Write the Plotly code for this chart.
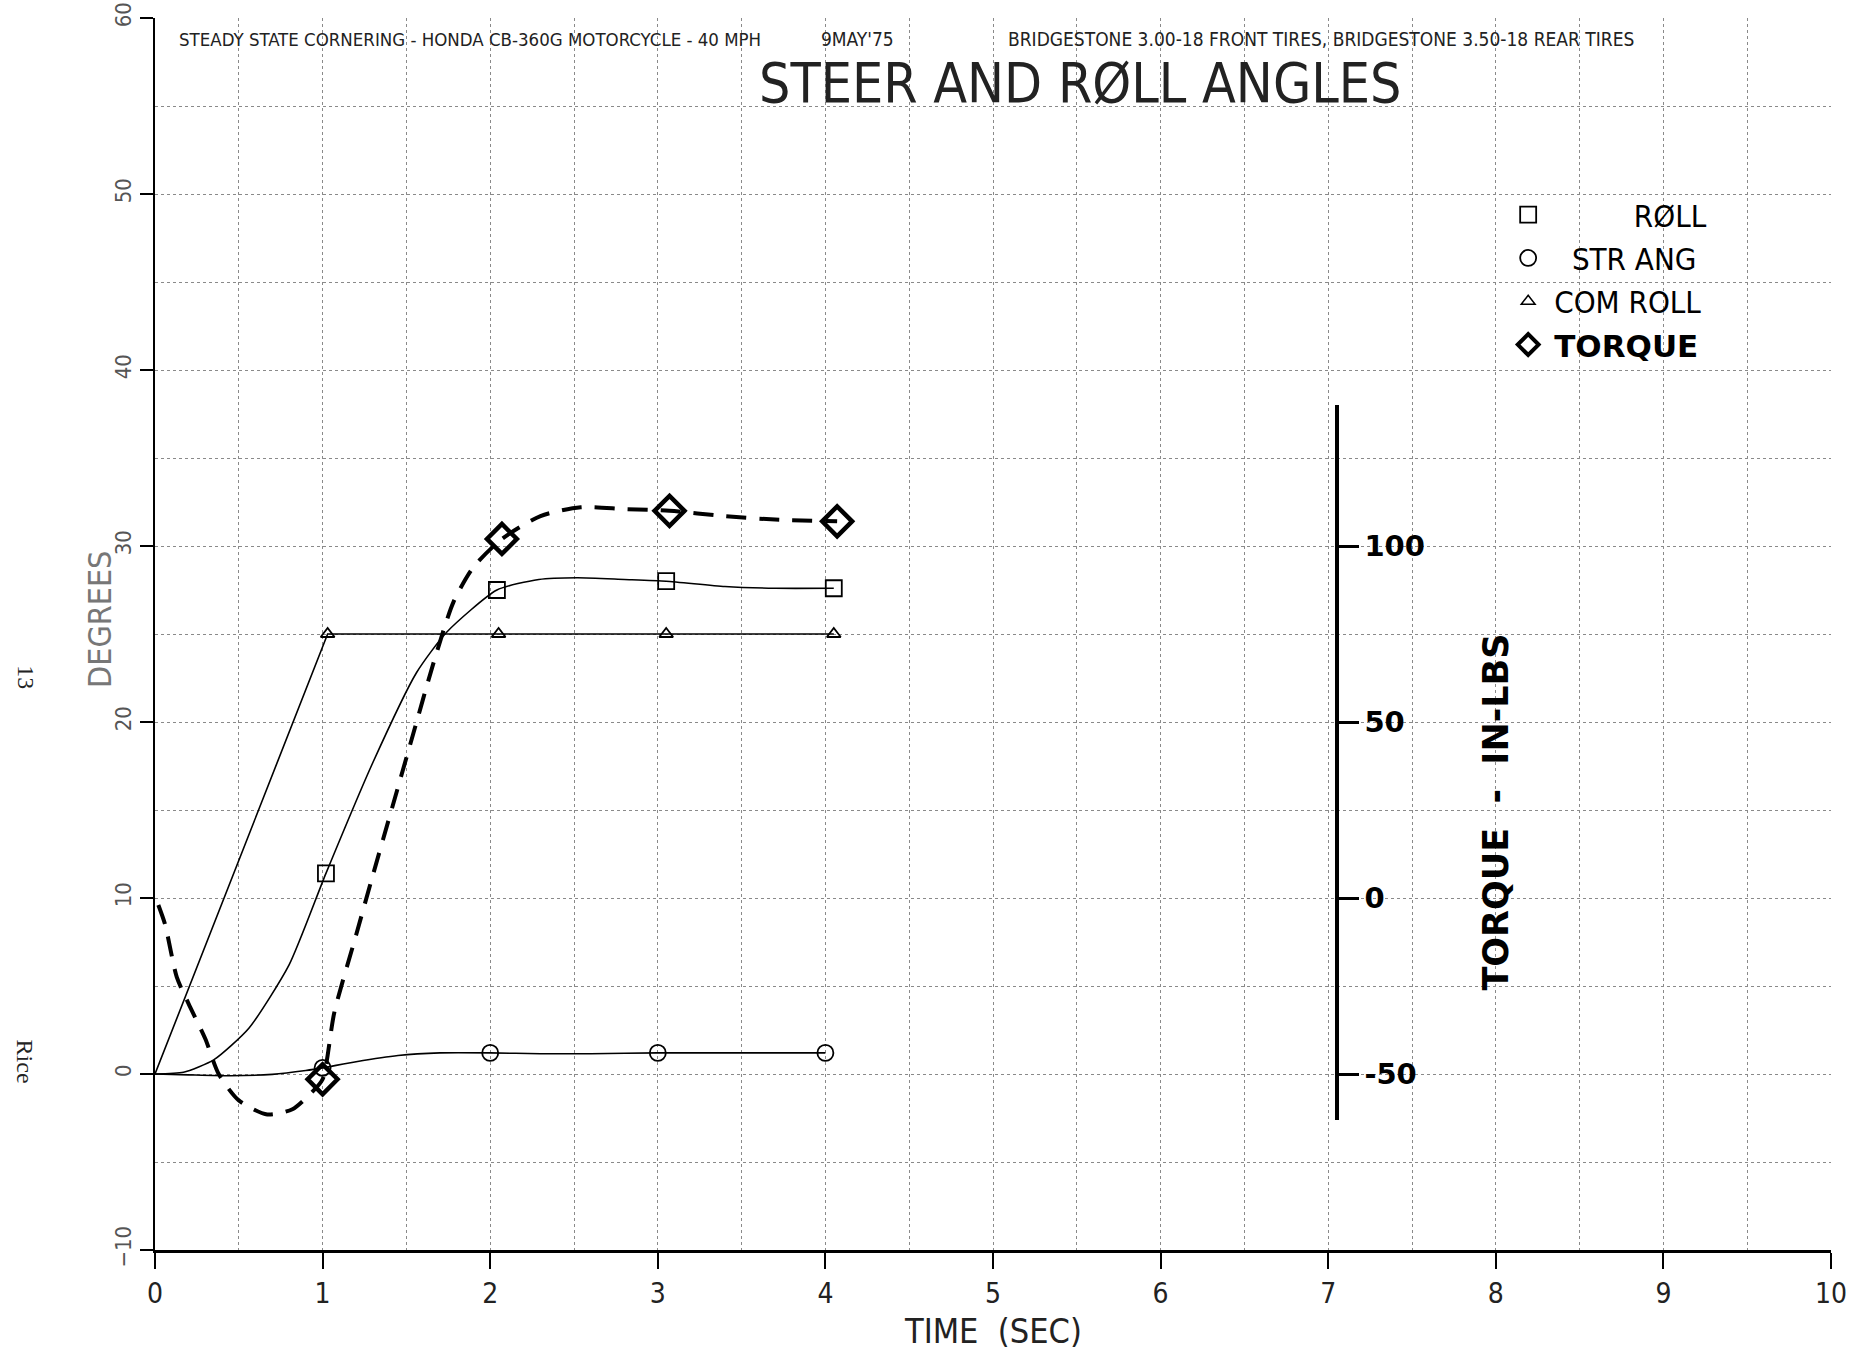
import plotly.graph_objects as go

# ---------------- data ----------------
# ROLL (degrees)
T_ROLL = [0, 0.17, 0.35, 0.56, 0.80, 1.02, 1.30, 1.56, 1.74, 2.04, 2.29, 2.52, 2.80, 3.05, 3.40, 3.70, 4.05]
ROLL = [0, 0.1, 0.8, 2.6, 6.2, 11.4, 17.7, 22.8, 25.1, 27.5, 28.1, 28.2, 28.1, 28.0, 27.7, 27.6, 27.6]
T_ROLL_MK = [1.02, 2.04, 3.05, 4.05]
ROLL_MK = [11.4, 27.5, 28.0, 27.6]

# STEER ANGLE (degrees)
T_STR = [0, 0.2, 0.45, 0.7, 0.9, 1.0, 1.2, 1.45, 1.7, 2.0, 2.3, 2.6, 3.0, 3.5, 4.0]
STR_ANG = [0, -0.05, -0.1, -0.02, 0.2, 0.35, 0.7, 1.05, 1.2, 1.2, 1.15, 1.15, 1.2, 1.2, 1.2]
T_STR_MK = [1.0, 2.0, 3.0, 4.0]
STR_MK = [0.35, 1.2, 1.2, 1.2]

# COMMANDED ROLL (degrees)
T_COM = [0, 1.03, 4.05]
COM_ROLL = [0, 25.0, 25.0]
T_COM_MK = [1.03, 2.05, 3.05, 4.05]
COM_MK = [25.0, 25.0, 25.0, 25.0]

# TORQUE (in-lbs)
T_TQ = [0.02, 0.06, 0.13, 0.20, 0.30, 0.38, 0.50, 0.67, 0.82, 0.94, 1.00, 1.07, 1.20, 1.30,
        1.42, 1.54, 1.66, 1.78, 1.90, 2.07, 2.30, 2.54, 2.80, 3.07, 3.40, 3.70, 4.07]
TORQUE = [-2, -7.5, -22.5, -30, -40, -50, -57.5, -61.5, -60, -55, -51.5, -32.5, -10.5, 6.5,
          26.5, 46.5, 66.5, 84, 94, 102, 108.5, 111, 110.5, 110, 108.5, 107.5, 107]
T_TQ_MK = [1.00, 2.07, 3.07, 4.07]
TQ_MK = [-51.5, 102, 110, 107]

X_TICKS = list(range(0, 11))
Y_TICKS = list(range(-10, 61, 10))
TQ_TICKS = [-50, 0, 50, 100]
TQ_TICK_LABELS = ["-50", "0", "50", "100"]
X_RANGE = [0, 10]
Y_RANGE = [-10, 60]
TQ_RANGE = [-63, 140]          # extent of the hand-drawn torque scale
TQ_ZERO_DEG = 10               # torque 0 in-lbs sits at 10 degrees
TQ_PER_DEG = 5                 # 5 in-lbs per degree
TQ_AXIS_T = 7.05               # time at which the torque scale is drawn

NARROW = "Liberation Sans Narrow, DejaVu Sans Condensed, Roboto Condensed, Liberation Sans, sans-serif"
HAND = "DejaVu Sans, Verdana, sans-serif"

def deg_to_frac(d):
    return (d - Y_RANGE[0]) / (Y_RANGE[1] - Y_RANGE[0])

tq_dom = [deg_to_frac(TQ_RANGE[0] / TQ_PER_DEG + TQ_ZERO_DEG),
          deg_to_frac(TQ_RANGE[1] / TQ_PER_DEG + TQ_ZERO_DEG)]

fig = go.Figure()
thin = dict(color="black", width=1.6, shape="spline", smoothing=0.6)

fig.add_trace(go.Scatter(x=T_COM, y=COM_ROLL, mode="lines", line=dict(color="black", width=1.6),
                         showlegend=False, hoverinfo="skip"))
fig.add_trace(go.Scatter(x=T_ROLL, y=ROLL, mode="lines", line=thin, showlegend=False))
fig.add_trace(go.Scatter(x=T_STR, y=STR_ANG, mode="lines", line=thin, showlegend=False))

mk_sq = dict(symbol="square-open", size=16, color="black", line=dict(width=1.8))
mk_ci = dict(symbol="circle-open", size=16, color="black", line=dict(width=1.8))
mk_tr = dict(symbol="triangle-up-open", size=12, color="black", line=dict(width=1.8))
mk_di = dict(symbol="diamond-open", size=23, color="black", line=dict(width=4.5))

fig.add_trace(go.Scatter(x=T_ROLL_MK, y=ROLL_MK, mode="markers", marker=mk_sq, showlegend=False))
fig.add_trace(go.Scatter(x=T_STR_MK, y=STR_MK, mode="markers", marker=mk_ci, showlegend=False))
fig.add_trace(go.Scatter(x=T_COM_MK, y=COM_MK, mode="markers", marker=mk_tr, showlegend=False))

fig.add_trace(go.Scatter(x=T_TQ, y=TORQUE, xaxis="x2", yaxis="y3", mode="lines",
                         line=dict(color="black", width=4, dash="20px,13px", shape="spline", smoothing=0.7),
                         showlegend=False))
fig.add_trace(go.Scatter(x=T_TQ_MK, y=TQ_MK, xaxis="x2", yaxis="y3", mode="markers", marker=mk_di,
                         cliponaxis=False, showlegend=False))

# legend entries (marker only)
fig.add_trace(go.Scatter(x=[None], y=[None], mode="markers",
                         marker=dict(symbol="square-open", size=16, color="black", line=dict(width=1.8)),
                         name="\u00a0\u00a0\u00a0\u00a0\u00a0\u00a0\u00a0\u00a0\u00a0RØLL"))
fig.add_trace(go.Scatter(x=[None], y=[None], mode="markers",
                         marker=dict(symbol="circle-open", size=16, color="black", line=dict(width=1.8)),
                         name="\u00a0\u00a0STR ANG"))
fig.add_trace(go.Scatter(x=[None], y=[None], mode="markers",
                         marker=dict(symbol="triangle-up-open", size=12, color="black", line=dict(width=1.5)),
                         name="COM ROLL"))
fig.add_trace(go.Scatter(x=[None], y=[None], mode="markers",
                         marker=dict(symbol="diamond-open", size=16, color="black", line=dict(width=4)),
                         name="<span style='font-family:DejaVu Sans;font-weight:bold'>TORQUE</span>"))

grid = dict(showgrid=True, gridcolor="#8a8a8a", griddash="dot", gridwidth=1)

fig.update_layout(
    width=1861, height=1356,
    margin=dict(l=155, r=30, t=18, b=106, autoexpand=False),
    paper_bgcolor="white", plot_bgcolor="rgba(0,0,0,0)",
    font=dict(family=NARROW, color="black"),
    xaxis=dict(range=X_RANGE, tickvals=X_TICKS, ticks="outside", ticklen=16, tickwidth=2,
               tickcolor="black", showline=True, linewidth=3, linecolor="black", zeroline=False,
               automargin=False,
               tickfont=dict(family=NARROW, size=28, color="#222"),
               minor=dict(dtick=0.5, **grid), **grid),
    xaxis2=dict(range=X_RANGE, anchor="y3", visible=False, showgrid=False, zeroline=False,
                automargin=False),
    yaxis=dict(range=Y_RANGE, tickvals=Y_TICKS, ticks="outside", ticklen=13, tickwidth=2,
               tickcolor="black", showline=True, linewidth=2, linecolor="black", zeroline=False,
               automargin=False, ticklabeloverflow="allow",
               tickangle=-90, tickfont=dict(family=NARROW, size=22, color="#555"),
               minor=dict(dtick=5, **grid), **grid),
    yaxis3=dict(domain=tq_dom, range=TQ_RANGE, anchor="free", automargin=False,
                position=(TQ_AXIS_T - X_RANGE[0]) / (X_RANGE[1] - X_RANGE[0]),
                side="right", showline=True, linewidth=4, linecolor="black",
                ticks="outside", ticklen=20, tickwidth=3, tickcolor="black",
                tickvals=TQ_TICKS, ticktext=TQ_TICK_LABELS,
                tickfont=dict(family=HAND, size=29, color="black", weight="bold"),
                showgrid=False, zeroline=False),
    legend=dict(x=0.8038, y=0.862, xanchor="left", yanchor="top", bgcolor="rgba(0,0,0,0)",
                font=dict(family=NARROW, size=31, color="black"), tracegroupgap=0,
                itemwidth=42),
    showlegend=True,
)

sub_font = dict(family=NARROW, size=19, color="#222")
ann = [
    dict(x=0.13, y=58.8, xref="x", yref="y", xanchor="left", yanchor="middle",
         text="STEADY STATE CORNERING - HONDA CB-360G MOTORCYCLE - 40 MPH",
         font=dict(family=NARROW, size=18.5, color="#222")),
    dict(x=3.96, y=58.8, xref="x", yref="y", xanchor="left", yanchor="middle",
         text="9MAY'75", font=sub_font),
    dict(x=5.08, y=58.8, xref="x", yref="y", xanchor="left", yanchor="middle",
         text="BRIDGESTONE 3.00-18 FRONT TIRES, BRIDGESTONE 3.50-18 REAR TIRES", font=sub_font),
    dict(x=5.52, y=56.3, xref="x", yref="y", xanchor="center", yanchor="middle",
         text="STEER AND RØLL ANGLES", font=dict(family=NARROW, size=55, color="#222")),
    dict(x=-0.0328, y=25.8, xref="paper", yref="y", xanchor="center", yanchor="middle", textangle=-90,
         text="DEGREES", font=dict(family=NARROW, size=32, color="#777")),
    dict(x=0.5, y=-0.066, xref="paper", yref="paper", xanchor="center", yanchor="middle",
         text="TIME  (SEC)", font=dict(family=NARROW, size=34, color="#222")),
    dict(x=8.0, y=14.9, xref="x", yref="y", xanchor="center", yanchor="middle", textangle=-90,
         text="<b>TORQUE  -  IN-LBS</b>", font=dict(family=HAND, size=35, color="black")),
    dict(x=-0.077, y=0.465, xref="paper", yref="paper", xanchor="center", yanchor="middle",
         textangle=90, text="13", font=dict(family="Liberation Serif, serif", size=24, color="#222")),
    dict(x=-0.077, y=0.153, xref="paper", yref="paper", xanchor="center", yanchor="middle",
         textangle=90, text="Rice", font=dict(family="Liberation Serif, serif", size=24, color="#222")),
]
for a in ann:
    a.setdefault("showarrow", False)
fig.update_layout(annotations=ann)

# remove the browser's default 8px page margin so the figure fills the window exactly
fig.write_html("out.html", config={"displayModeBar": False},
               post_script="document.body.style.margin='0';")
